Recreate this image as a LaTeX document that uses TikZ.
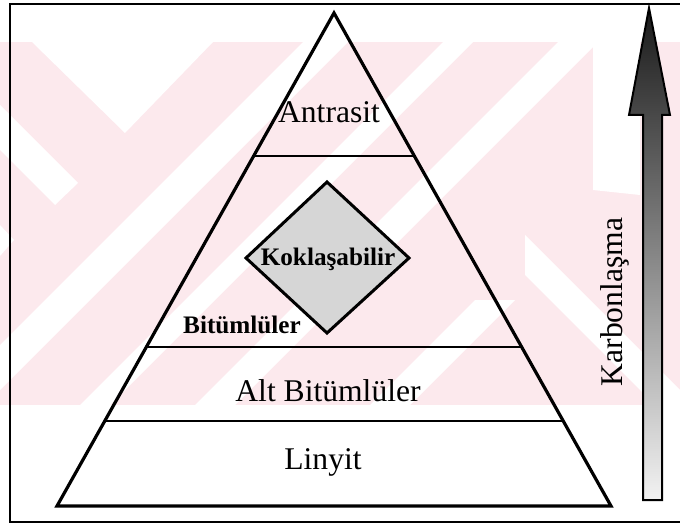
\documentclass[tikz,border=0pt]{standalone}
\usepackage{fontspec}
\setmainfont{Liberation Serif}
\usetikzlibrary{calc}
\definecolor{wmpink}{RGB}{252,233,237}
\tikzset{
    pyramid edge/.style={line width=1.6pt, line join=miter},
    level line/.style={line width=1pt},
    coke box/.style={line width=1.5pt, fill=black!16, line join=miter},
    rank label/.style={inner sep=0pt, anchor=base, font=\fontsize{15.8}{18}\selectfont},
    small label/.style={inner sep=0pt, anchor=base, font=\bfseries\fontsize{12.6}{15}\selectfont},
    trend arrow/.style={draw=black, line width=1pt, top color=black!90, middle color=black!50, bottom color=black!5}
}
\begin{document}
\begin{tikzpicture}[x=0.5pt, y=-0.5pt]
    \useasboundingbox (0,0) rectangle (680,524);

    % faint watermark behind the figure
    \begin{scope}
        \clip (0,42) rectangle (680,405);
        \fill[wmpink] (0,42) rectangle (680,405);
        \fill[white] (32,42) -- (213,42) -- (125,133) -- cycle;
        \fill[white] (0,105) -- (78,183) -- (55,205) -- (0,150) -- cycle;
        \fill[white] (0,225) -- (14,240) -- (0,256) -- cycle;
        \fill[white] (303,42) -- (348,42) -- (-15,405) -- (-60,405) -- cycle;
        \fill[white] (443,42) -- (473,42) -- (110,405) -- (80,405) -- cycle;
        \fill[white] (558,42) -- (598,42) -- (235,405) -- (195,405) -- cycle;
        \fill[white] (475,300) -- (515,300) -- (410,405) -- (370,405) -- cycle;
        \fill[white] (525,235) -- (525,275) -- (680,430) -- (720,430) -- cycle;
        \fill[white] (593,42) -- (640,42) -- (640,195) -- (593,190) -- cycle;
    \end{scope}

    % outer frame
    \draw[line width=1pt] (10,4) rectangle (700,522);

    % pyramid
    \coordinate (top) at (334,13);
    \coordinate (baseL) at (57,506);
    \coordinate (baseR) at (611,506);
    \draw[pyramid edge] (top) -- (baseL) -- (baseR) -- cycle;
    \foreach \t/\n in {0.290/a, 0.6775/b, 0.8276/c} {
        \coordinate (L\n) at ($(top)!\t!(baseL)$);
        \coordinate (R\n) at ($(top)!\t!(baseR)$);
        \draw[level line] (L\n) -- (R\n);
    }

    % coking coal diamond
    \coordinate (Dt) at (327,182);
    \coordinate (Dr) at (409,258);
    \coordinate (Db) at (327,333);
    \coordinate (Dl) at (246,258);
    \draw[coke box] (Dt) -- (Dr) -- (Db) -- (Dl) -- cycle;

    % labels
    \node[rank label] (antrasit) at (329,123) {Antrasit};
    \node[small label] (koklas) at (328,265) {Koklaşabilir};
    \node[small label] (bitum) at (242,333) {Bitümlüler};
    \node[rank label] (altbitum) at (328,401) {Alt Bitümlüler};
    \node[rank label] (linyit) at (323,469) {Linyit};

    % carbonisation arrow
    \coordinate (Ab1) at (643,500);
    \coordinate (Ab2) at (662,500);
    \coordinate (Atip) at (649,8);
    \shade[trend arrow] (Ab1) -- (643,115) -- (629,115) -- (Atip)
        -- (670,115) -- (662,115) -- (Ab2) -- cycle;
    \node[rank label, rotate=90] (karbon) at (622,302) {Karbonlaşma};
\end{tikzpicture}
\end{document}
